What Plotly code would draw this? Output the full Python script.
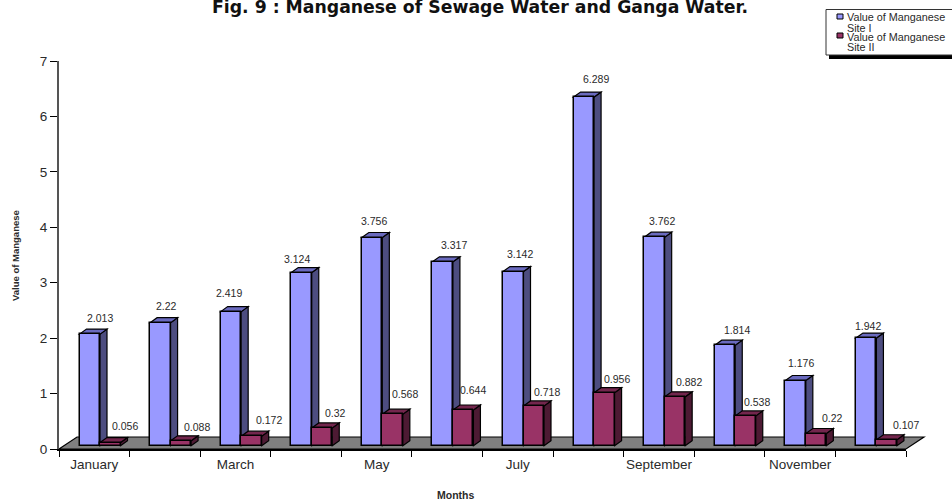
import plotly.graph_objects as go

MONTHS = ["January", "February", "March", "April", "May", "June", "July",
          "August", "September", "October", "November", "December"]
SITE_I = [2.013, 2.22, 2.419, 3.124, 3.756, 3.317, 3.142, 6.289, 3.762, 1.814, 1.176, 1.942]
SITE_II = [0.056, 0.088, 0.172, 0.32, 0.568, 0.644, 0.718, 0.956, 0.882, 0.538, 0.22, 0.107]
SITE_I_LABEL_DX = [10, 6, -2, -5, 2, 11, 7, 12, 8, 12, 5, 2]
SITE_I_LABEL_DY = [16, 17, 19, 14, 17, 17, 18, 18, 16, 15, 18, 12]
SITE_II_LABEL_DX = [15, 16, 18, 13, 12, 10, 13, 13, 14, 11, 16, 19]
SITE_II_LABEL_DY = [17, 14, 16, 15, 20, 20, 14, 14, 15, 14, 16, 15]

W, H = 952, 502
L, R, T, B = 59, 906, 61, 449
PX_X = (R - L) / 12.0
PX_Y = (B - T) / 7.0
BAR_W = 20.5 / PX_X
OFF_1 = (20.5 + 10.25) / PX_X
OFF_2 = OFF_1 + BAR_W
BASE = 3.3 / PX_Y
DX, DY = 7 / PX_X, 5 / PX_Y
FONT = "Liberation Sans, Arial, sans-serif"
INK = "#2a2a2a"


def paper_x(px):
    return (px - L) / (R - L)


def paper_y(py):
    return (B - py) / (B - T)


fig = go.Figure()
fig.add_trace(go.Bar(name="Value of Manganese Site I",
                     x=[i + OFF_1 for i in range(12)], y=SITE_I, base=BASE, width=BAR_W,
                     marker=dict(color="#9999FF", line=dict(color="#000000", width=1.5))))
fig.add_trace(go.Bar(name="Value of Manganese Site II",
                     x=[i + OFF_2 for i in range(12)], y=SITE_II, base=BASE, width=BAR_W,
                     marker=dict(color="#993366", line=dict(color="#000000", width=1.5))))

shapes = []
fd_x, fd_y = 18 / (R - L), 12 / (B - T)
shapes.append(dict(type="path", xref="paper", yref="paper", layer="below",
                   path=f"M 0 0 L {fd_x} {fd_y} L {1 + fd_x} {fd_y} L 1 0 Z",
                   fillcolor="#808080", line=dict(color="#000000", width=1.2)))


def faces(cx, v, side, top):
    x0, x1 = cx - BAR_W / 2, cx + BAR_W / 2
    y0, y1 = BASE, BASE + v
    side_path = f"M {x1} {y0} L {x1 + DX} {y0 + DY} L {x1 + DX} {y1 + DY} L {x1} {y1} Z"
    top_path = f"M {x0} {y1} L {x0 + DX} {y1 + DY} L {x1 + DX} {y1 + DY} L {x1} {y1} Z"
    out = []
    for p, c in ((side_path, side), (top_path, top)):
        out.append(dict(type="path", xref="x", yref="y", layer="below", path=p,
                        fillcolor=c, line=dict(color="#000000", width=1.2)))
    return out


for i, v in enumerate(SITE_I):
    shapes += faces(i + OFF_1, v, "#4D4D80", "#6A6ABF")
for i, v in enumerate(SITE_II):
    shapes += faces(i + OFF_2, v, "#4D1A33", "#73264D")

shapes.append(dict(type="rect", xref="paper", yref="paper",
                   x0=paper_x(829), x1=paper_x(960), y0=paper_y(59), y1=paper_y(12),
                   fillcolor="#000000", line=dict(width=0)))
shapes.append(dict(type="rect", xref="paper", yref="paper",
                   x0=paper_x(826), x1=paper_x(960), y0=paper_y(55), y1=paper_y(9.5),
                   fillcolor="#FFFFFF", line=dict(color="#333333", width=1)))
shapes.append(dict(type="rect", xref="paper", yref="paper",
                   x0=paper_x(837), x1=paper_x(843), y0=paper_y(19), y1=paper_y(14),
                   fillcolor="#9999FF", line=dict(color="#000000", width=1)))
shapes.append(dict(type="rect", xref="paper", yref="paper",
                   x0=paper_x(837), x1=paper_x(843), y0=paper_y(38), y1=paper_y(33),
                   fillcolor="#993366", line=dict(color="#000000", width=1)))

ann = []
for i, v in enumerate(SITE_I):
    ann.append(dict(x=i + OFF_1, y=BASE + v, xref="x", yref="y", text=str(v), showarrow=False,
                    xshift=SITE_I_LABEL_DX[i], yshift=SITE_I_LABEL_DY[i],
                    font=dict(size=10.5, color=INK, family=FONT)))
for i, v in enumerate(SITE_II):
    ann.append(dict(x=i + OFF_2, y=BASE + v, xref="x", yref="y", text=str(v), showarrow=False,
                    xshift=SITE_II_LABEL_DX[i], yshift=SITE_II_LABEL_DY[i],
                    font=dict(size=10.5, color=INK, family=FONT)))
for text, py in (("Value of Manganese", 17.5), ("Site I", 27.5), ("Value of Manganese", 37), ("Site II", 47.5)):
    ann.append(dict(x=paper_x(845), y=paper_y(py), xref="paper", yref="paper", text=text,
                    showarrow=False, xanchor="left", yanchor="middle",
                    font=dict(size=10.8, color=INK, family=FONT)))
ann.append(dict(x=paper_x(15), y=paper_y(256), xref="paper", yref="paper", text="Value of Manganese",
                textangle=-90, showarrow=False, xanchor="center", yanchor="middle",
                font=dict(size=9.5, color=INK, family=FONT, weight="bold")))
ann.append(dict(x=paper_x(455), y=paper_y(494.5), xref="paper", yref="paper", text="Months",
                showarrow=False, xanchor="center", yanchor="middle",
                font=dict(size=10.5, color=INK, family=FONT, weight="bold")))

fig.update_layout(
    width=W, height=H, autosize=False,
    margin=dict(l=L, r=W - R, t=T, b=H - B, pad=0),
    paper_bgcolor="#FFFFFF", plot_bgcolor="rgba(0,0,0,0)",
    showlegend=False, bargap=0,
    title=dict(text="<b>Fig. 9 : Manganese of Sewage Water and Ganga Water.</b>",
               x=480 / W, xref="container", xanchor="center",
               y=1 - 6.5 / H, yref="container", yanchor="middle",
               font=dict(size=17.3, color="#111111", family="DejaVu Sans, sans-serif")),
    xaxis=dict(range=[0, 12], showgrid=False, zeroline=False, showline=True,
               linecolor="#000000", linewidth=1.5,
               tickmode="array", tickvals=[i + 0.5 for i in range(0, 12, 2)],
               ticktext=MONTHS[0::2], ticks="", ticklabelstandoff=2,
               tickfont=dict(size=13.5, color=INK, family=FONT),
               minor=dict(tickmode="array", tickvals=list(range(13)), ticks="outside",
                          ticklen=6, tickwidth=1.2, tickcolor="#000000", showgrid=False)),
    yaxis=dict(range=[0, 7], showgrid=False, zeroline=False, showline=True,
               linecolor="#555555", linewidth=2, dtick=1, ticks="outside",
               ticklen=7, tickwidth=1.2, tickcolor="#000000",
               tickfont=dict(size=13.5, color=INK, family=FONT)),
    shapes=shapes, annotations=ann,
)

fig.write_html("out.html", config={"displayModeBar": False},
               post_script="document.body.style.margin='0';document.body.style.overflow='hidden';")
